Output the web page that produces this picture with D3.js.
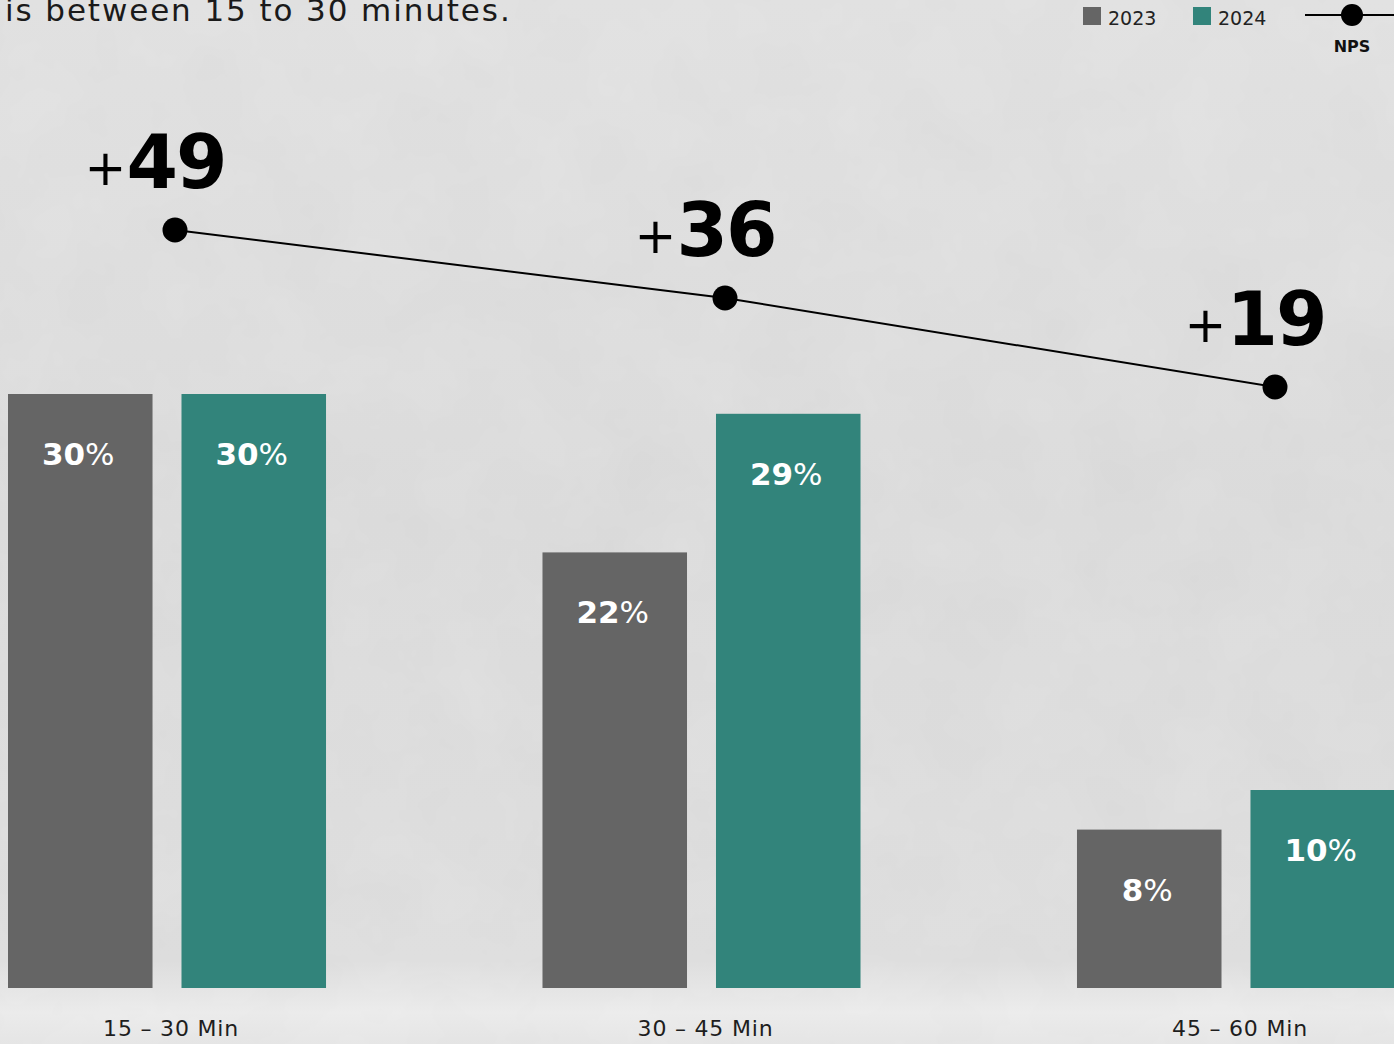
<!DOCTYPE html>
<html><head><meta charset="utf-8">
<script src="https://cdn.jsdelivr.net/npm/d3@7"></script>
<style>
html,body{margin:0;padding:0;background:#dcdcdc;overflow:hidden;}
svg{display:block;}
text{font-family:"DejaVu Sans","Noto Sans",sans-serif;}
</style></head>
<body>
<script>
const categories = ["15 – 30 Min", "30 – 45 Min", "45 – 60 Min"];
const seriesNames = ["2023", "2024"];
const values2023 = [30, 22, 8];
const values2024 = [30, 29, 10];
const npsValues = [49, 36, 19];
const titleText = "is between 15 to 30 minutes.";
const colors = {"2023": "#656565", "2024": "#32847b"};

const W = 1394, H = 1044;
const svg = d3.select("body").append("svg").attr("width", W).attr("height", H);

// background
const defs = svg.append("defs");
const bg = defs.append("linearGradient").attr("id","bg").attr("x1",0).attr("y1",0).attr("x2",0).attr("y2",1);
bg.append("stop").attr("offset","0%").attr("stop-color","#dedede");
bg.append("stop").attr("offset","50%").attr("stop-color","#d8d8d8");
bg.append("stop").attr("offset","92%").attr("stop-color","#dbdbdb");
bg.append("stop").attr("offset","97%").attr("stop-color","#e9e9e9");
bg.append("stop").attr("offset","100%").attr("stop-color","#e3e3e3");
const f = defs.append("filter").attr("id","noise").attr("x",0).attr("y",0).attr("width","100%").attr("height","100%");
f.append("feTurbulence").attr("type","fractalNoise").attr("baseFrequency","0.012").attr("numOctaves",4).attr("seed",3).attr("result","t");
f.append("feColorMatrix").attr("type","matrix").attr("values","0 0 0 0 1  0 0 0 0 1  0 0 0 0 1  0 0 0 0.18 0");
svg.append("rect").attr("width",W).attr("height",H).attr("fill","url(#bg)");
svg.append("rect").attr("width",W).attr("height",H).attr("filter","url(#noise)");

const baseY = 988;
const x0 = d3.scaleBand().domain(categories).range([8, 1395]).paddingInner(0.405).paddingOuter(0);
const x1 = d3.scaleBand().domain(seriesNames).range([0, x0.bandwidth()]).paddingInner(0.167).paddingOuter(0);
const y = d3.scaleLinear().domain([0, 30]).range([baseY, 394]);
const yN = d3.scaleLinear().domain([19, 49]).range([387, 230]);
const xN = d3.scalePoint().domain(categories).range([175, 1275]);

// title
svg.append("text").attr("x",5).attr("y",21).attr("font-size",31).attr("letter-spacing",1.9).attr("fill","#1a1a1a").text(titleText);

const rows = categories.map((c,i)=>({cat:c, vals:[{k:"2023",v:values2023[i]},{k:"2024",v:values2024[i]}]}));
const g = svg.append("g");
const grp = g.selectAll("g.grp").data(rows).join("g").attr("transform",d=>`translate(${x0(d.cat)},0)`);
grp.selectAll("rect").data(d=>d.vals).join("rect")
  .attr("x",d=>x1(d.k)).attr("y",d=>y(d.v)).attr("width",x1.bandwidth()).attr("height",d=>baseY-y(d.v))
  .attr("fill",d=>colors[d.k]);
const lab = grp.selectAll("text.lab").data(d=>d.vals).join("text").attr("class","lab")
  .attr("x",d=>x1(d.k)+x1.bandwidth()/2 - 2).attr("y",d=>y(d.v)+71)
  .attr("text-anchor","middle").attr("fill","#fff").attr("font-size",31);
lab.append("tspan").attr("font-weight",700).text(d=>d.v);
lab.append("tspan").attr("font-weight",400).text("%");

// x axis labels
const xAxis = d3.axisBottom(x0).tickSize(0).tickPadding(0);
const ax = svg.append("g").attr("transform",`translate(4,${baseY})`).call(xAxis);
ax.select(".domain").remove();
ax.selectAll("text").attr("font-size",22).attr("letter-spacing",0.8).attr("fill","#1e1e1e").attr("dy",0).attr("y",48)
  .attr("font-family","'DejaVu Sans',sans-serif");

// NPS line
const line = d3.line().x((d,i)=>xN(categories[i])).y(d=>yN(d));
svg.append("path").datum(npsValues).attr("d",line).attr("fill","none").attr("stroke","#000").attr("stroke-width",2);
svg.selectAll("circle.nps").data(npsValues).join("circle").attr("class","nps")
  .attr("cx",(d,i)=>xN(categories[i])).attr("cy",d=>yN(d)).attr("r",12.5).attr("fill","#000");
const nl = svg.selectAll("text.npsl").data(npsValues).join("text").attr("class","npsl")
  .attr("x",(d,i)=>xN(categories[i])-20).attr("y",d=>yN(d)-42)
  .attr("text-anchor","middle").attr("fill","#000");
nl.append("tspan").attr("font-size",50).attr("font-weight",400).attr("dy",-3).text("+");
nl.append("tspan").attr("font-size",74).attr("font-weight",700).attr("dy",3).attr("letter-spacing",-2).text(d=>d);

// legend
const leg = svg.append("g");
const legItems = [{k:"2023",x:1083},{k:"2024",x:1193}];
leg.selectAll("rect").data(legItems).join("rect").attr("x",d=>d.x).attr("y",7).attr("width",18).attr("height",18).attr("fill",d=>colors[d.k]);
leg.selectAll("text.lt").data(legItems).join("text").attr("class","lt").attr("x",d=>d.x+25).attr("y",25)
  .attr("font-size",19).attr("fill","#222").text(d=>d.k);
leg.append("line").attr("x1",1305).attr("x2",1394).attr("y1",15).attr("y2",15).attr("stroke","#000").attr("stroke-width",2);
leg.append("circle").attr("cx",1352).attr("cy",15).attr("r",11).attr("fill","#000");
leg.append("text").attr("x",1352).attr("y",52).attr("text-anchor","middle").attr("font-size",16).attr("font-weight",700).attr("fill","#111").text("NPS");
</script>
</body></html>
